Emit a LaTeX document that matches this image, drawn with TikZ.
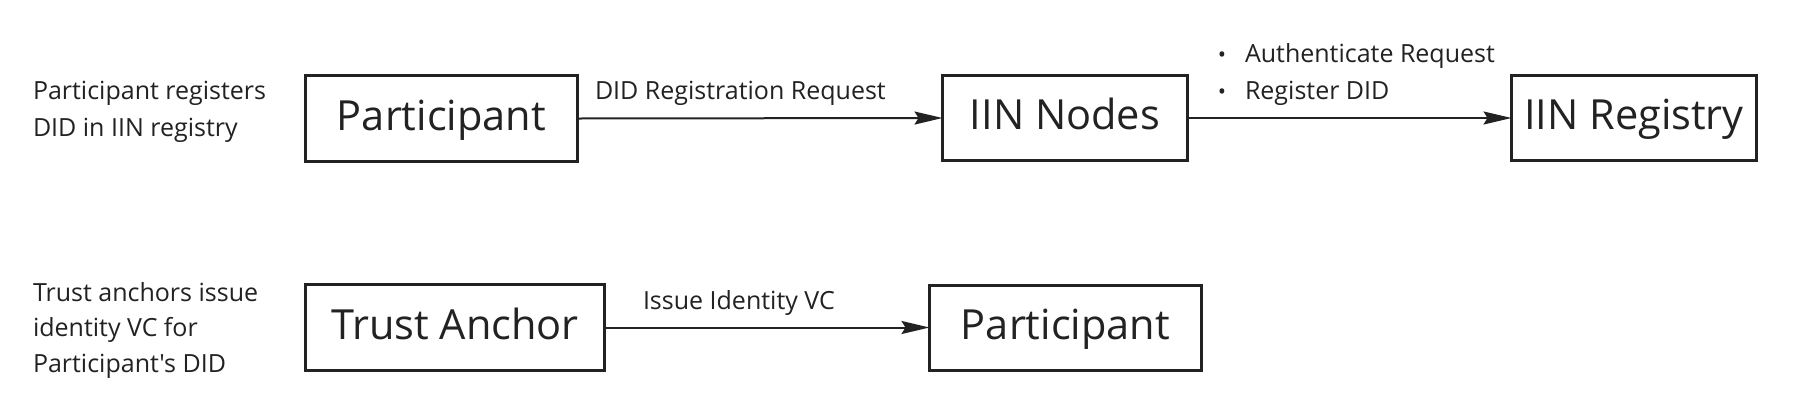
\documentclass[tikz,border=0pt]{standalone}
\usepackage{fontspec}
\setmainfont{Open Sans}[Ligatures=TeXOff]
\usetikzlibrary{arrows.meta}
\definecolor{ink}{HTML}{222222}
\newcommand{\bulletmark}{\makebox[27.1pt][l]{\fontsize{22}{22}\selectfont •}}
\tikzset{
  box/.style={draw=ink, line width=3pt, inner sep=0pt, outer sep=0pt, text=ink,
    text height=33pt, text depth=10pt, font=\fontsize{41.5}{50}\selectfont},
  note/.style={inner sep=0pt, outer sep=0pt, text=ink, align=left,
    font=\fontsize{25}{37}\selectfont},
  flow/.style={draw=ink, line width=2pt, -{Stealth[length=28pt, width=13pt, inset=4pt]}},
}
\begin{document}
\begin{tikzpicture}[x=1pt, y=-1pt]
\useasboundingbox[fill=white] (0,0) rectangle (1814,408);
% row 1
\node[box, minimum width=272pt, minimum height=86pt] (p1) at (441.5,118.5) {Participant};
\node[box, minimum width=245pt, minimum height=85pt] (iin) at (1065,118) {IIN Nodes};
\node[box, minimum width=245pt, minimum height=85pt] (reg) at (1634,118) {IIN Registry};
\node[note, anchor=base west] (n1) at (33,136) {Participant registers\\DID in IIN registry};
\node[note, anchor=base west] (l1) at (595,99) {DID Registration Request};
\node[note, anchor=base west] (l2) at (1217.9,99) {\bulletmark Authenticate Request\\\bulletmark Register DID};
\draw[flow] (p1.east) -- (iin.west);
\draw[flow] (iin.east) -- (reg.west);
% row 2
\node[box, minimum width=299pt, minimum height=86pt] (ta) at (455,327.5) {Trust Anchor};
\node[box, minimum width=272pt, minimum height=85pt] (p2) at (1065.5,327.5) {Participant};
\node[note, anchor=base west, font=\fontsize{25}{35.5}\selectfont] (n2) at (33,372) {Trust anchors issue\\identity VC for\\Participant's DID};
\node[note, anchor=base west] (l3) at (643,309) {Issue Identity VC};
\draw[flow] (ta.east) -- (p2.west);
\end{tikzpicture}
\end{document}
